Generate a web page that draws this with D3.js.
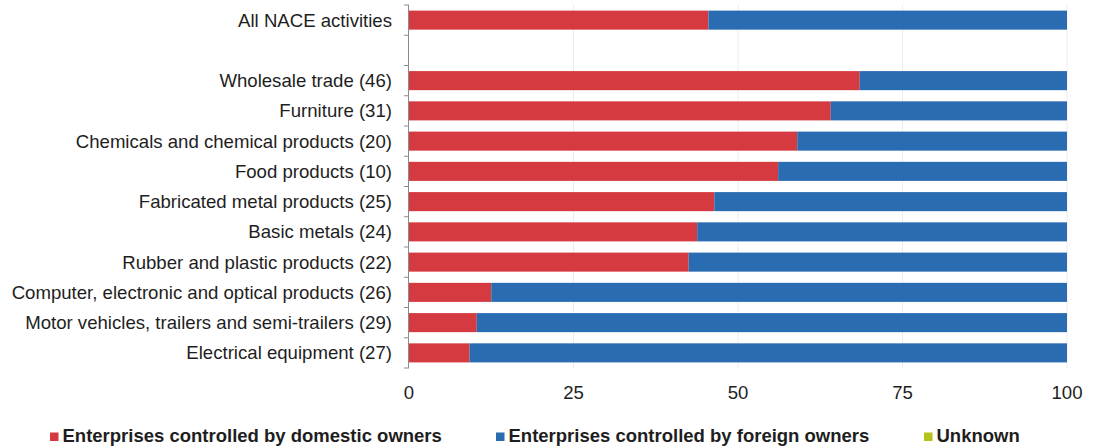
<!DOCTYPE html>
<html>
<head>
<meta charset="utf-8">
<script src="https://cdn.jsdelivr.net/npm/d3@7"></script>
<style>
  html, body { margin: 0; padding: 0; background: #fff; }
  svg { display: block; font-family: "Liberation Sans", Arial, sans-serif; }
</style>
</head>
<body>
<svg id="chart" width="1094" height="448"></svg>
<script>
// Categories top to bottom; the empty string leaves a blank row under the total
const categories = [
  "All NACE activities",
  "",
  "Wholesale trade (46)",
  "Furniture (31)",
  "Chemicals and chemical products (20)",
  "Food products (10)",
  "Fabricated metal products (25)",
  "Basic metals (24)",
  "Rubber and plastic products (22)",
  "Computer, electronic and optical products (26)",
  "Motor vehicles, trailers and semi-trailers (29)",
  "Electrical equipment (27)"
];
// Shares of enterprises (%)
const domestic = [45.5, null, 68.5, 64.1, 59.0, 56.1, 46.4, 43.8, 42.5, 12.5, 10.3, 9.2];
const foreign  = [54.5, null, 31.5, 35.9, 41.0, 43.9, 53.6, 56.2, 57.5, 87.5, 89.7, 90.8];
const unknown  = [0, null, 0, 0, 0, 0, 0, 0, 0, 0, 0, 0];
const xTicks = [0, 25, 50, 75, 100];

const seriesNames = [
  "Enterprises controlled by domestic owners",
  "Enterprises controlled by foreign owners",
  "Unknown"
];
const seriesColors = ["#d63a41", "#2a6cb2", "#b4c31c"];

const svg = d3.select("#chart");
const plot = { left: 409, right: 1067, top: 5, bottom: 368 };

const x = d3.scaleLinear().domain([0, 100]).range([plot.left, plot.right]);
const y = d3.scaleBand().domain(d3.range(categories.length))
  .range([plot.top, plot.bottom]).paddingInner(0.37).paddingOuter(0.185);
const yStep = y.step();

// vertical gridlines
svg.append("g")
  .selectAll("line")
  .data(xTicks.filter(t => t > 0))
  .join("line")
  .attr("x1", d => x(d)).attr("x2", d => x(d))
  .attr("y1", plot.top).attr("y2", plot.bottom)
  .attr("stroke", "#ececec").attr("stroke-width", 1);

// stacked bars
const rows = categories.map((c, i) => ({ i, d: domestic[i], f: foreign[i], u: unknown[i] }))
  .filter(r => r.d !== null);
const stack = d3.stack().keys(["d", "f", "u"]);
const layers = stack(rows);

svg.append("g")
  .selectAll("g")
  .data(layers)
  .join("g")
  .attr("fill", (d, i) => seriesColors[i])
  .selectAll("rect")
  .data(d => d)
  .join("rect")
  .attr("x", d => x(d[0]))
  .attr("width", d => Math.max(0, x(d[1]) - x(d[0])))
  .attr("y", d => y(d.data.i))
  .attr("height", y.bandwidth());

// y axis line with ticks at band boundaries
const yAxis = svg.append("g");
yAxis.append("line")
  .attr("x1", plot.left - 0.5).attr("x2", plot.left - 0.5)
  .attr("y1", plot.top).attr("y2", plot.bottom)
  .attr("stroke", "#8c8c8c").attr("stroke-width", 1);
yAxis.selectAll("line.tick")
  .data(d3.range(categories.length + 1))
  .join("line")
  .attr("class", "tick")
  .attr("x1", plot.left - 5).attr("x2", plot.left)
  .attr("y1", d => plot.top + d * yStep).attr("y2", d => plot.top + d * yStep)
  .attr("stroke", "#8c8c8c").attr("stroke-width", 1);

// category labels
svg.append("g")
  .selectAll("text")
  .data(categories)
  .join("text")
  .attr("x", 392)
  .attr("y", (d, i) => y(i) + y.bandwidth() / 2)
  .attr("dy", "0.35em")
  .attr("text-anchor", "end")
  .attr("font-size", 18.6)
  .attr("fill", "#1e1e1e")
  .text(d => d);

// x tick labels
svg.append("g")
  .selectAll("text")
  .data(xTicks)
  .join("text")
  .attr("x", d => x(d))
  .attr("y", 392)
  .attr("dy", "0.35em")
  .attr("text-anchor", "middle")
  .attr("font-size", 18.6)
  .attr("fill", "#1e1e1e")
  .text(d => d);

// legend
const legendX = [50, 496, 924];
const legend = svg.append("g")
  .selectAll("g")
  .data(seriesNames)
  .join("g")
  .attr("transform", (d, i) => `translate(${legendX[i]},436)`);
legend.append("rect")
  .attr("x", 0).attr("y", -3.5).attr("width", 8.5).attr("height", 8.5)
  .attr("fill", (d, i) => seriesColors[i]);
legend.append("text")
  .attr("x", 12.5).attr("y", 0).attr("dy", "0.35em")
  .attr("font-size", 18.5).attr("font-weight", "bold")
  .attr("fill", "#1e1e1e")
  .text(d => d);
</script>
</body>
</html>
